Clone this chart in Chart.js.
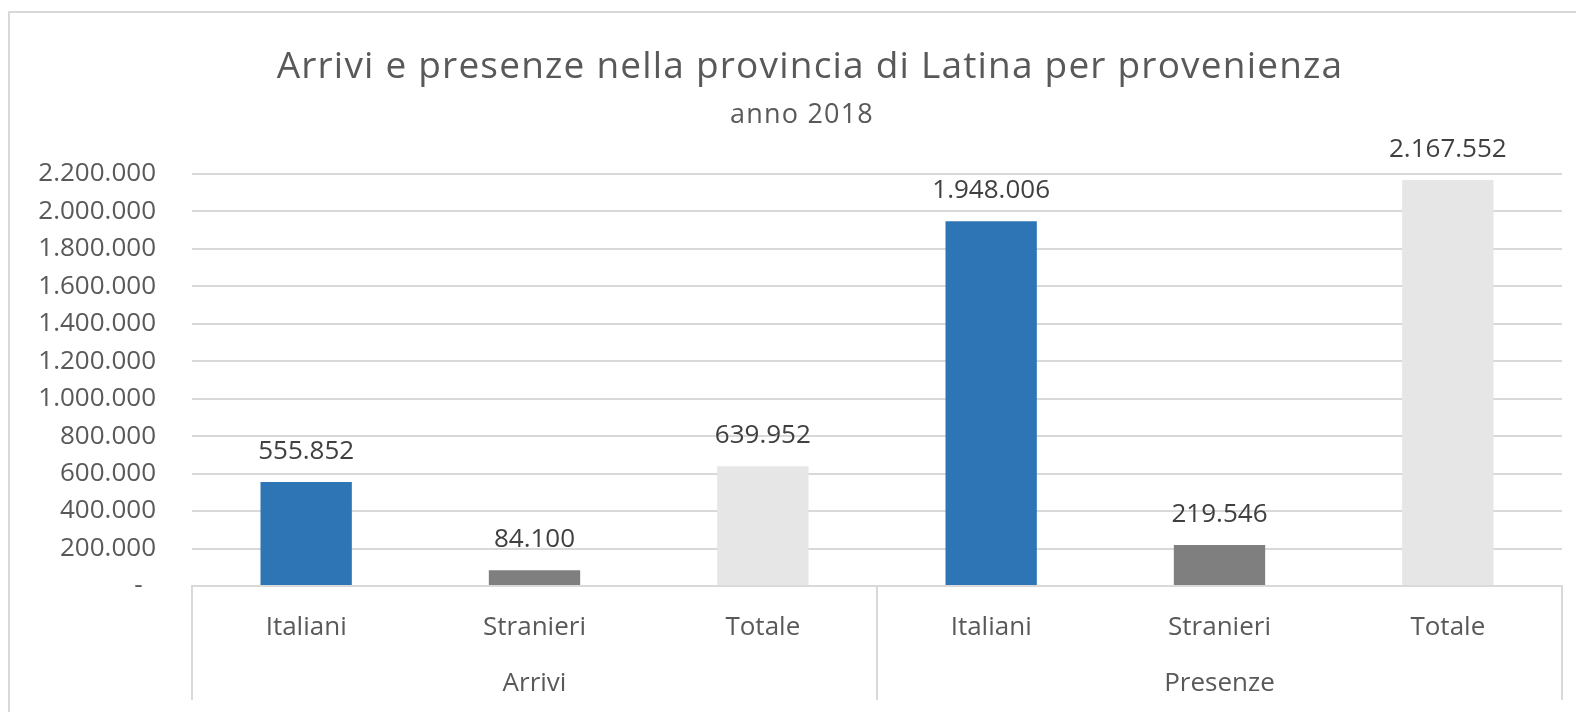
<!DOCTYPE html>
<html>
<head>
<meta charset="utf-8">
<script src="https://cdn.jsdelivr.net/npm/chart.js@4"></script>
<style>
  html, body { margin: 0; padding: 0; background: #fff; }
  #wrap { width: 1576px; height: 712px; position: relative; }
</style>
</head>
<body>
<div id="wrap"><canvas id="chart"></canvas></div>
<script>
const titleText = 'Arrivi e presenze nella provincia di Latina per provenienza';
const subtitleText = 'anno 2018';
const categories = ['Italiani', 'Stranieri', 'Totale', 'Italiani', 'Stranieri', 'Totale'];
const groups = ['Arrivi', 'Presenze'];
const values = [555852, 84100, 639952, 1948006, 219546, 2167552];
const barColors = ['#2E75B6', '#7F7F7F', '#E7E6E6', '#2E75B6', '#7F7F7F', '#E7E6E6'];

const FONT = '"Open Sans", sans-serif';
const GRID = '#D9D9D9';

//formato italiano con punti come separatore delle migliaia
function fmt(v) {
    return String(Math.round(v)).replace(/\B(?=(\d{3})+(?!\d))/g, '.');
}

//cornice, titolo, etichette dei valori e gruppi sull'asse
const decorPlugin = {
    id: 'decor',
    beforeDraw(chart) {
        const c = chart.ctx;
        c.save();
        c.fillStyle = '#fff';
        c.fillRect(0, 0, chart.width, chart.height);
        c.strokeStyle = GRID;
        c.lineWidth = 2;
        c.strokeRect(9, 12, chart.width + 20, chart.height + 20);
        c.restore();
    },
    afterDatasetsDraw(chart) {
        const c = chart.ctx;
        const meta = chart.getDatasetMeta(0);
        c.save();
        c.font = '26px ' + FONT;
        c.fillStyle = '#404040';
        c.textAlign = 'center';
        c.textBaseline = 'alphabetic';
        meta.data.forEach((bar, i) => {
            c.fillText(fmt(values[i]), bar.x, bar.y - 23);
        });
        c.restore();
    },
    afterDraw(chart) {
        const c = chart.ctx;
        const area = chart.chartArea;
        const x = chart.scales.x;
        c.save();
        c.fillStyle = '#595959';
        c.textAlign = 'center';
        c.textBaseline = 'alphabetic';
        c.font = '37px ' + FONT;
        c.letterSpacing = '1.2px';
        c.fillText(titleText, 810, 78);
        c.font = '27px ' + FONT;
        c.letterSpacing = '1.2px';
        c.fillText(subtitleText, 802, 123);
        c.letterSpacing = '0px';

        //linee verticali tra i gruppi
        const per = categories.length / groups.length;
        const bottom = 700;
        c.strokeStyle = GRID;
        c.lineWidth = 2;
        for (let g = 0; g <= groups.length; g++) {
            const xi = g === 0 ? area.left
                : g === groups.length ? area.right
                : (x.getPixelForValue(g * per - 1) + x.getPixelForValue(g * per)) / 2;
            c.beginPath();
            c.moveTo(xi, area.bottom);
            c.lineTo(xi, bottom);
            c.stroke();
        }

        c.font = '26px ' + FONT;
        c.fillStyle = '#595959';
        groups.forEach((g, gi) => {
            const a = x.getPixelForValue(gi * per);
            const b = x.getPixelForValue(gi * per + per - 1);
            c.fillText(g, (a + b) / 2, 691);
        });
        c.restore();
    }
};

const ctx = document.getElementById('chart').getContext('2d');
new Chart(ctx, {
    type: 'bar',
    data: {
        labels: categories,
        datasets: [{
            data: values,
            backgroundColor: barColors,
            categoryPercentage: 0.4,
            barPercentage: 1
        }]
    },
    options: {
        responsive: true,
        maintainAspectRatio: false,
        animation: false,
        layout: { padding: { top: 174, right: 14, bottom: 0, left: 0 } },
        plugins: {
            legend: { display: false },
            tooltip: { enabled: false }
        },
        scales: {
            x: {
                grid: { display: false, drawTicks: false },
                border: { display: true, color: GRID, width: 2 },
                ticks: { color: '#595959', font: { family: FONT, size: 26 }, padding: 26 },
                afterFit(s) { s.height = 126; }
            },
            y: {
                min: 0,
                max: 2200000,
                grid: { color: GRID, lineWidth: 2, drawTicks: false },
                border: { display: false },
                ticks: {
                    stepSize: 200000,
                    padding: 36,
                    color: '#595959',
                    font: { family: FONT, size: 26 },
                    callback: v => v === 0 ? '-  ' : fmt(v)
                },
                afterFit(s) { s.width = 192; }
            }
        }
    },
    plugins: [decorPlugin]
});
</script>
</body>
</html>
